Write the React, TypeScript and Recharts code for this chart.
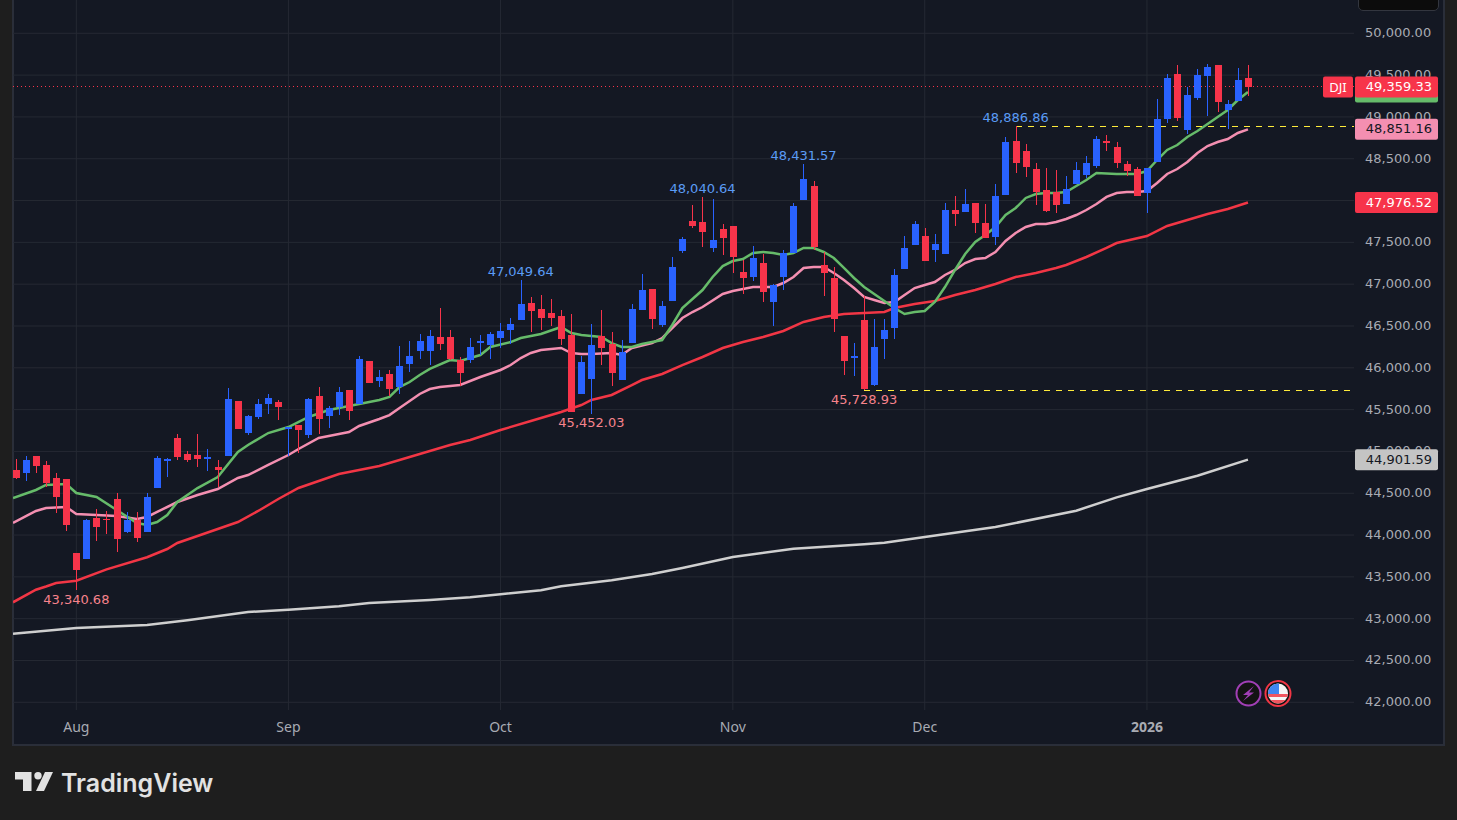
import {
  ComposedChart,
  Bar,
  Line,
  XAxis,
  YAxis,
  CartesianGrid,
  ReferenceLine,
  ReferenceDot,
} from "recharts";

// first candle is the sixth-last session of July, index 6 = Aug 1
const opens = [
  44778, 44742, 44945, 44838, 44682, 44670, 43785, 43714, 44204, 44192, 44431, 44036, 44180, 44036, 44562, 44885,
  45160, 44969, 44957, 44909, 44814, 44945, 45603, 45220, 45412, 45567, 45591, 45280, 45316, 45196, 45663, 45423,
  45531, 45734, 45567, 46081, 45842, 45926, 45770, 46045, 46201, 46201, 46368, 46368, 46093, 46093, 46308, 46272,
  46356, 46452, 46571, 46775, 46703, 46655, 46619, 46392, 45687, 45866, 46380, 46284, 45854, 46296, 46691, 46942,
  46512, 46799, 47397, 47755, 47743, 47432, 47660, 47696, 47146, 47086, 47253, 46787, 47086, 47373, 48007, 48174,
  47229, 47074, 46380, 46129, 46571, 45794, 46344, 46476, 47181, 47468, 47576, 47408, 47361, 47887, 47863, 47971,
  47731, 47564, 48066, 48712, 48592, 48377, 48126, 48102, 47959, 48198, 48305, 48413, 48712, 48640, 48437, 48377,
  48090, 48461, 48975, 49513, 48843, 49226, 49489, 49621, 49083, 49190, 49465,
];
const closes = [
  44682, 44897, 44826, 44622, 44455, 44120, 43582, 44180, 44096, 44175, 43953, 44180, 43965, 44455, 44921, 44909,
  44933, 44897, 44909, 44933, 44778, 45627, 45268, 45423, 45567, 45639, 45531, 45292, 45256, 45627, 45388, 45519,
  45711, 45483, 46105, 45818, 45890, 45746, 46021, 46141, 46320, 46380, 46284, 46105, 45938, 46249, 46320, 46404,
  46440, 46524, 46763, 46679, 46595, 46595, 46344, 45471, 46069, 46272, 46237, 45938, 46189, 46703, 46930, 46583,
  46739, 47205, 47540, 47696, 47624, 47528, 47552, 47325, 47074, 47313, 46906, 46990, 47373, 47935, 48258, 47444,
  47134, 46583, 46081, 46141, 45746, 46249, 46452, 47110, 47432, 47719, 47277, 47480, 47887, 47839, 47959, 47731,
  47552, 48054, 48700, 48449, 48401, 48102, 47875, 47947, 48138, 48365, 48449, 48736, 48700, 48449, 48353, 48054,
  48389, 48975, 49465, 48987, 49262, 49501, 49597, 49178, 49154, 49441, 49359.33,
];
const highs = [
  44909, 44945, 44945, 44885, 44742, 44670, 43785, 44192, 44311, 44288, 44503, 44276, 44276, 44503, 44945, 44921,
  45208, 45005, 45208, 45029, 44897, 45758, 45603, 45435, 45627, 45687, 45615, 45292, 45316, 45639, 45770, 45543,
  45770, 45734, 46141, 46081, 45974, 45974, 46261, 46320, 46404, 46452, 46715, 46452, 46129, 46356, 46392, 46428,
  46536, 46595, 47049.64, 46846, 46870, 46823, 46691, 46643, 46141, 46524, 46691, 46428, 46332, 46763, 47122, 46942,
  46799, 47325, 47564, 47947, 48040.64, 48018, 47719, 47696, 47289, 47456, 47361, 47002, 47408, 47971, 48431.57, 48234,
  47385, 47205, 46380, 46296, 46858, 46583, 46583, 47181, 47576, 47755, 47671, 47600, 47971, 48054, 48138, 47971,
  47959, 48198, 48760, 48886.86, 48676, 48449, 48389, 48365, 48293, 48461, 48533, 48772, 48784, 48700, 48473, 48401,
  48389, 49214, 49513, 49621, 49358, 49573, 49633, 49621, 49202, 49585, 49621,
];
const lows = [
  44670, 44646, 44742, 44574, 44264, 44048, 43340.68, 43714, 43929, 44012, 43797, 44024, 43917, 44036, 44562, 44694,
  44897, 44873, 44814, 44766, 44574, 44945, 45268, 45196, 45388, 45447, 45376, 44945, 44981, 45160, 45208, 45280,
  45435, 45376, 45567, 45818, 45770, 45663, 45687, 45950, 46105, 46033, 46213, 46093, 45782, 46057, 46153, 46105,
  46237, 46284, 46571, 46428, 46452, 46500, 46272, 45471, 45687, 45452.03, 46033, 45782, 45854, 46296, 46691, 46464,
  46488, 46799, 47373, 47671, 47444, 47385, 47349, 47134, 46882, 47038, 46787, 46500, 46930, 47373, 48007, 47408,
  46858, 46428, 45914, 45902, 45728.93, 45782, 46105, 46344, 47181, 47468, 47277, 47265, 47361, 47696, 47863, 47612,
  47552, 47468, 48066, 48329, 48281, 47947, 47863, 47851, 47959, 48198, 48270, 48389, 48592, 48389, 48293, 48054,
  47851, 48461, 48927, 48951, 48796, 49202, 49011, 49059, 48855, 49190, 49250,
];

const greenIdx = [
  -0.27, 2, 3, 5, 6, 8, 10, 12, 13, 14, 15, 16, 18, 20, 22, 23, 25, 27, 29, 31, 32, 34, 36, 37, 38, 39, 40, 41, 43, 44,
  46, 47, 49, 50, 52, 54, 55, 56, 58, 59, 60, 61, 62, 64, 65, 66, 68, 69, 70, 71, 72, 73, 74, 75, 76, 77, 78, 79, 80,
  81, 82, 83, 84, 85, 86, 87, 88, 89, 90, 91, 92, 93, 94, 95, 96, 97, 98, 99, 100, 101, 102, 103, 104, 105, 106, 107,
  109, 111, 112, 113, 114, 115, 116, 117, 118, 119, 120, 121, 122,
];
const greenVals = [
  44443, 44539, 44599, 44610, 44503, 44455, 44300, 44144, 44120, 44156, 44240, 44395, 44562, 44694, 44993, 45077,
  45220, 45292, 45412, 45495, 45519, 45567, 45615, 45651, 45770, 45830, 45914, 45986, 46093, 46081, 46153, 46249,
  46308, 46356, 46404, 46488, 46416, 46392, 46368, 46296, 46249, 46249, 46284, 46332, 46512, 46715, 46930, 47086,
  47217, 47277, 47301, 47373, 47385, 47373, 47349, 47373, 47433, 47433, 47385, 47313, 47194, 47074, 46966, 46883,
  46799, 46715, 46643, 46667, 46679, 46787, 46966, 47170, 47361, 47505, 47588, 47684, 47827, 47911, 48031, 48078,
  48090, 48090, 48102, 48174, 48246, 48330, 48318, 48318, 48353, 48485, 48605, 48664, 48760, 48832, 48915, 48999,
  49083, 49202, 49298,
];
const pinkIdx = [
  -0.27, 2, 3, 5, 6, 8, 10, 12, 13, 14, 16, 18, 20, 22, 23, 25, 27, 28, 30, 32, 33, 34, 36, 37, 38, 40, 41, 42, 44, 46,
  48, 49, 50, 51, 52, 54, 55, 56, 57, 59, 60, 61, 63, 64, 65, 66, 67, 68, 70, 71, 72, 73, 74, 75, 76, 77, 78, 79, 80,
  81, 82, 83, 84, 85, 86, 87, 88, 89, 90, 91, 92, 93, 94, 95, 96, 97, 98, 99, 100, 101, 102, 103, 104, 105, 106, 107,
  108, 109, 110, 111, 112, 113, 114, 115, 116, 117, 118, 119, 120, 121, 122,
];
const pinkVals = [
  44144, 44288, 44324, 44336, 44252, 44240, 44228, 44192, 44216, 44276, 44395, 44479, 44551, 44682, 44718, 44838,
  44957, 45029, 45161, 45208, 45232, 45304, 45388, 45435, 45519, 45687, 45746, 45770, 45794, 45890, 45974, 46033,
  46117, 46177, 46213, 46237, 46177, 46165, 46165, 46177, 46153, 46237, 46296, 46356, 46476, 46595, 46667, 46727,
  46883, 46919, 46942, 46966, 46966, 46966, 47014, 47086, 47194, 47205, 47205, 47134, 47050, 46954, 46847, 46811,
  46775, 46787, 46871, 46954, 46990, 47026, 47110, 47170, 47253, 47301, 47313, 47385, 47516, 47612, 47684, 47720,
  47720, 47743, 47779, 47827, 47887, 47959, 48043, 48090, 48102, 48102, 48114, 48210, 48318, 48377, 48461, 48569,
  48652, 48700, 48736, 48808, 48851.16,
];
const redIdx = [
  -0.27, 2, 3, 4, 6, 9, 13, 15, 16, 18, 22, 24, 26, 28, 32, 36, 40, 43, 45, 48, 51, 54, 56, 57, 59, 61, 62, 64, 66, 68,
  70, 72, 74, 76, 78, 80, 82, 84, 86, 87, 89, 91, 93, 95, 97, 99, 101, 103, 104, 106, 108, 109, 112, 114, 116, 118, 120,
  122,
];
const redVals = [
  43196, 43346, 43385, 43427, 43454, 43590, 43735, 43833, 43905, 43989, 44156, 44288, 44431, 44563, 44730, 44826, 44969,
  45077, 45137, 45256, 45364, 45472, 45555, 45615, 45675, 45794, 45854, 45926, 46033, 46129, 46237, 46308, 46368, 46440,
  46548, 46607, 46643, 46655, 46667, 46715, 46763, 46799, 46871, 46930, 47002, 47086, 47134, 47194, 47229, 47325, 47433,
  47492, 47576, 47696, 47767, 47839, 47899, 47976.52,
];
const whiteIdx = [
  -0.27, 6, 13, 17, 23, 27, 32, 35, 41, 45, 48, 52, 54, 59, 63, 66, 71, 77, 84, 86, 90, 97, 105, 109, 112, 117, 122,
];
const whiteVals = [
  42820, 42888, 42924, 42981, 43080, 43107, 43148, 43187, 43224, 43256, 43292, 43339, 43387, 43459, 43534, 43606, 43738,
  43837, 43889, 43909, 43977, 44096, 44291, 44451, 44551, 44710, 44901.59,
];

const priceTicks = [
  42000, 42500, 43000, 43500, 44000, 44500, 45000, 45500, 46000, 46500, 47000, 47500, 48000, 48500, 49000, 49500, 50000,
];
const monthTicks = [6, 27, 48, 71, 90, 112];
const monthLabels = ["Aug", "Sep", "Oct", "Nov", "Dec", "2026"];

const pivotIdx = [6, 50, 57, 68, 78, 84, 99];
const pivotVals = [43340.68, 47049.64, 45452.03, 48040.64, 48431.57, 45728.93, 48886.86];
const pivotIsHigh = [false, true, false, true, true, false, true];

const BLUE = "#2962ff";
const RED = "#f7344a";
const FONT = "'DejaVu Sans', sans-serif";
const X_END = 132.5;
const ON_TOP = 2000;

const fmt = (v: number) =>
  v.toLocaleString("en-US", { minimumFractionDigits: 2, maximumFractionDigits: 2 });

const candles = opens.map((open, i) => ({
  i,
  open,
  close: closes[i],
  high: highs[i],
  low: lows[i],
  range: [lows[i], highs[i]],
}));
const pairs = (idx: number[], vals: number[]) => idx.map((i, n) => ({ i, v: vals[n] }));

function Candle(props: any) {
  const { x, y, width, height, payload } = props;
  if (!payload) return null;
  const { open, close, high, low } = payload;
  const up = close >= open;
  const color = up ? BLUE : RED;
  const perUnit = height / (high - low);
  const top = y + (high - Math.max(open, close)) * perUnit;
  const bodyH = Math.max(Math.abs(open - close) * perUnit, 1.5);
  const cx = Math.round(x + width / 2);
  return (
    <g shapeRendering="crispEdges">
      <rect x={cx} y={y} width={1} height={height} fill={color} />
      <rect x={cx - 3} y={top} width={7} height={bodyH} fill={color} />
    </g>
  );
}

function MonthTick({ x, y, payload }: any) {
  const n = monthTicks.indexOf(payload.value);
  const label = monthLabels[n];
  return (
    <text
      x={x}
      y={y}
      textAnchor="middle"
      dominantBaseline="central"
      fill="#a8abb3"
      fontFamily="'Noto Sans', sans-serif"
      fontSize={14}
      fontWeight={label === "2026" ? 700 : 400}
    >
      {label}
    </text>
  );
}

function PriceTick({ x, y, payload }: any) {
  return (
    <text
      x={x}
      y={y - 0.5}
      textAnchor="start"
      dominantBaseline="central"
      fill="#a8abb3"
      fontFamily={FONT}
      fontSize={13}
    >
      {fmt(payload.value)}
    </text>
  );
}

// price tag on the scale, hung on the right edge of the plot
const priceTag = (bg: string, fg: string, value: number) => (p: any) => (
  <g>
    <rect x={p.cx + 1} y={p.cy - 10.5} width={83} height={21} rx={2} fill={bg} />
    <text
      x={p.cx + 78}
      y={p.cy - 0.5}
      textAnchor="end"
      dominantBaseline="central"
      fill={fg}
      fontFamily={FONT}
      fontSize={13}
    >
      {fmt(value)}
    </text>
  </g>
);

const symbolTag = (p: any) => (
  <g>
    <rect x={p.cx - 31} y={p.cy - 10.5} width={30} height={21} rx={2} fill={RED} />
    <text
      x={p.cx - 16}
      y={p.cy}
      textAnchor="middle"
      dominantBaseline="central"
      fill="#fff"
      fontFamily="'Noto Sans', sans-serif"
      fontSize={13}
    >
      DJI
    </text>
  </g>
);

const pivotText = (value: number, isHigh: boolean) => (p: any) => (
  <text
    x={p.cx}
    y={p.cy + (isHigh ? -9 : 9)}
    textAnchor="middle"
    dominantBaseline="central"
    fill={isHigh ? "#5b9cf6" : "#f7838c"}
    fontFamily={FONT}
    fontSize={13}
  >
    {fmt(value)}
  </text>
);

function Icons() {
  return (
    <svg
      width={70}
      height={32}
      style={{ position: "absolute", left: 1233, top: 678 }}
    >
      <circle cx={15.5} cy={15.5} r={12} fill="#131313" stroke="#a13fb5" strokeWidth={2} />
      <path d="M21 8 L10 17 L15 17 L10 23 L21 14.5 L16 14.5 Z" fill="#a13fb5" />
      <defs>
        <clipPath id="flag">
          <circle cx={45} cy={15.5} r={10} />
        </clipPath>
      </defs>
      <circle cx={45} cy={15.5} r={12.5} fill="#131313" stroke="#f23645" strokeWidth={2} />
      <g clipPath="url(#flag)">
        <rect x={35} y={5} width={20} height={21} fill="#f5f5f5" />
        <rect x={35} y={16} width={20} height={3} fill="#f0555f" />
        <rect x={35} y={22} width={20} height={4} fill="#f0555f" />
        <rect x={35} y={5} width={11} height={11} fill="#3f86f0" />
      </g>
    </svg>
  );
}

function Logo() {
  return (
    <div style={{ position: "absolute", left: 15, top: 768, height: 30 }}>
      <svg width={40} height={26} style={{ position: "absolute", left: 0, top: 4 }}>
        <path d="M0 0 H16.5 V19 H8 V7.5 H0 Z" fill="#e2e2e2" />
        <circle cx={23} cy={3.7} r={3.7} fill="#e2e2e2" />
        <path d="M30 0 H38 L29 19 H21 Z" fill="#e2e2e2" />
      </svg>
      <div
        style={{
          position: "absolute",
          left: 46,
          top: 0,
          fontFamily: "Inter, sans-serif",
          fontWeight: 600,
          fontSize: 25,
          lineHeight: "30px",
          color: "#e2e2e2",
          whiteSpace: "nowrap",
        }}
      >
        TradingView
      </div>
    </div>
  );
}

export default function App() {
  return (
    <div style={{ position: "absolute", left: 0, top: 0, width: 1457, height: 820, background: "#1e1e1e", overflow: "hidden" }}>
      <div
        style={{
          position: "absolute",
          left: 12,
          top: -2,
          width: 1433,
          height: 748,
          boxSizing: "border-box",
          border: "2px solid #2a2e39",
          background: "#141823",
        }}
      />
      <div style={{ position: "absolute", left: 0, top: 0 }}>
        <ComposedChart
          width={1444}
          height={744}
          data={candles}
          margin={{ top: 0, right: 0, bottom: 0, left: 13 }}
        >
          <CartesianGrid stroke="#252933" strokeWidth={1} horizontalValues={priceTicks} verticalValues={monthTicks} />
          <XAxis
            dataKey="i"
            type="number"
            domain={[-0.27, X_END]}
            ticks={monthTicks}
            tick={<MonthTick />}
            tickLine={false}
            axisLine={false}
            height={34}
            tickMargin={10}
            interval={0}
            allowDataOverflow
          />
          <YAxis
            orientation="right"
            type="number"
            domain={[41908, 50398.2]}
            ticks={priceTicks}
            tick={<PriceTick />}
            tickLine={false}
            axisLine={false}
            width={90}
            tickMargin={5}
            interval={0}
            allowDataOverflow
          />
          <Line data={pairs(whiteIdx, whiteVals)} dataKey="v" stroke="#cfcfcf" strokeWidth={2.5} dot={false} isAnimationActive={false} />
          <Line data={pairs(redIdx, redVals)} dataKey="v" stroke="#f23645" strokeWidth={2.5} dot={false} isAnimationActive={false} />
          <Line data={pairs(pinkIdx, pinkVals)} dataKey="v" stroke="#f48fb1" strokeWidth={2.5} dot={false} isAnimationActive={false} />
          <Line data={pairs(greenIdx, greenVals)} dataKey="v" stroke="#66bb6a" strokeWidth={2.5} dot={false} isAnimationActive={false} />
          <Bar dataKey="range" barSize={7} shape={<Candle />} isAnimationActive={false} zIndex={900} />
          <ReferenceLine y={49359.33} stroke={RED} strokeDasharray="1 3" shapeRendering="crispEdges" />
          <ReferenceLine
            segment={[
              { x: 99, y: 48886.86 },
              { x: X_END, y: 48886.86 },
            ]}
            stroke="#ffeb3b"
            strokeDasharray="6 6"
            shapeRendering="crispEdges"
          />
          <ReferenceLine
            segment={[
              { x: 84, y: 45728.93 },
              { x: X_END, y: 45728.93 },
            ]}
            stroke="#ffeb3b"
            strokeDasharray="6 6"
            shapeRendering="crispEdges"
          />
          {pivotIdx.map((x, n) => (
            <ReferenceDot
              key={x}
              x={x}
              y={pivotVals[n]}
              r={0}
              ifOverflow="visible"
              shape={pivotText(pivotVals[n], pivotIsHigh[n])}
            />
          ))}
          <ReferenceDot zIndex={ON_TOP} x={X_END} y={49298} r={0} ifOverflow="visible" shape={priceTag("#66bb6a", "#66bb6a", 49298)} />
          <ReferenceDot zIndex={ON_TOP} x={X_END} y={49359.33} r={0} ifOverflow="visible" shape={priceTag(RED, "#fff", 49359.33)} />
          <ReferenceDot zIndex={ON_TOP} x={X_END} y={49359.33} r={0} ifOverflow="visible" shape={symbolTag} />
          <ReferenceDot zIndex={ON_TOP} x={X_END} y={48851.16} r={0} ifOverflow="visible" shape={priceTag("#f48fb1", "#131722", 48851.16)} />
          <ReferenceDot zIndex={ON_TOP} x={X_END} y={47976.52} r={0} ifOverflow="visible" shape={priceTag(RED, "#fff", 47976.52)} />
          <ReferenceDot zIndex={ON_TOP} x={X_END} y={44901.59} r={0} ifOverflow="visible" shape={priceTag("#c4c4c4", "#131722", 44901.59)} />
        </ComposedChart>
      </div>
      <div
        style={{
          position: "absolute",
          left: 1358,
          top: -8,
          width: 81,
          height: 19,
          boxSizing: "border-box",
          background: "#0c0c0c",
          border: "1px solid #33363f",
          borderRadius: 5,
        }}
      />
      <Icons />
      <Logo />
    </div>
  );
}
